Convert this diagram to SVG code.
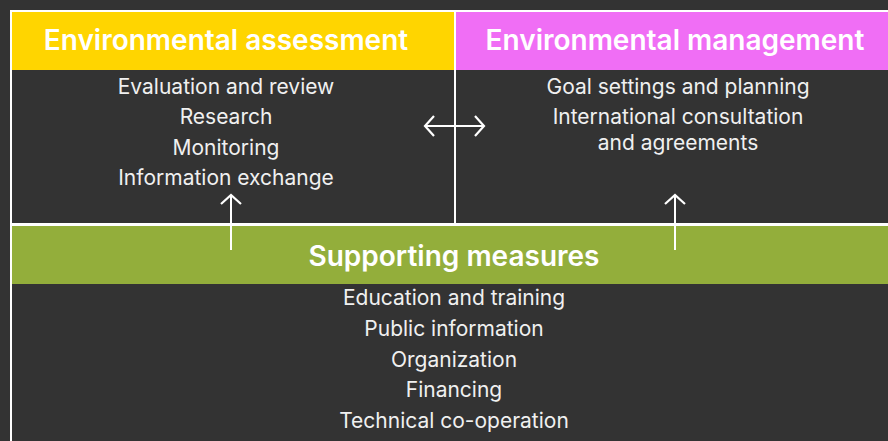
<svg xmlns="http://www.w3.org/2000/svg" width="888" height="441" viewBox="0 0 888 441">
<style>
.hd{font-family:Inter,"Liberation Sans",sans-serif;font-weight:600;font-size:28px;fill:#ffffff;text-anchor:middle}
.tx{font-family:Inter,"Liberation Sans",sans-serif;font-size:21px;fill:#f0f0f0;text-anchor:middle}
.frame{fill:none;stroke:#ffffff;stroke-width:2}
.conn{fill:none;stroke:#ffffff;stroke-width:2}
</style>
<defs>
<marker id="ah" viewBox="0 0 20 22" refX="17" refY="11" markerWidth="20" markerHeight="22" markerUnits="userSpaceOnUse" orient="auto-start-reverse">
<path d="M8,1 L17,11 L8,21" fill="none" stroke="#ffffff" stroke-width="2.2"/>
</marker>
</defs>
<rect x="0" y="0" width="888" height="441" fill="#333333"/>
<g id="assessment">
<rect x="11" y="11" width="444" height="213" class="frame"/>
<rect x="12" y="12" width="442" height="58" fill="#FFD500"/>
<text class="hd" x="226" y="50">Environmental assessment</text>
<text class="tx" x="226" y="94">Evaluation and review</text>
<text class="tx" x="226" y="124">Research</text>
<text class="tx" x="226" y="155">Monitoring</text>
<text class="tx" x="226" y="185">Information exchange</text>
</g>
<g id="management">
<rect x="455" y="11" width="440" height="213" class="frame"/>
<rect x="456" y="12" width="438" height="58" fill="#F06EF5"/>
<text class="hd" x="675" y="50">Environmental management</text>
<text class="tx" x="678" y="94">Goal settings and planning</text>
<text class="tx" x="678" y="124">International consultation</text>
<text class="tx" x="678" y="150">and agreements</text>
</g>
<g id="supporting">
<rect x="11" y="225" width="884" height="230" class="frame"/>
<rect x="12" y="226" width="882" height="58" fill="#93AE3B"/>
<text class="hd" x="454" y="266">Supporting measures</text>
<text class="tx" x="454" y="305">Education and training</text>
<text class="tx" x="454" y="336">Public information</text>
<text class="tx" x="454" y="367">Organization</text>
<text class="tx" x="454" y="397">Financing</text>
<text class="tx" x="454" y="428">Technical co-operation</text>
</g>
<g id="connectors">
<line class="conn" x1="425" y1="126" x2="484" y2="126" marker-start="url(#ah)" marker-end="url(#ah)"/>
<line class="conn" x1="231" y1="250" x2="231" y2="195" marker-end="url(#ah)"/>
<line class="conn" x1="675" y1="250" x2="675" y2="195" marker-end="url(#ah)"/>
</g>
</svg>
